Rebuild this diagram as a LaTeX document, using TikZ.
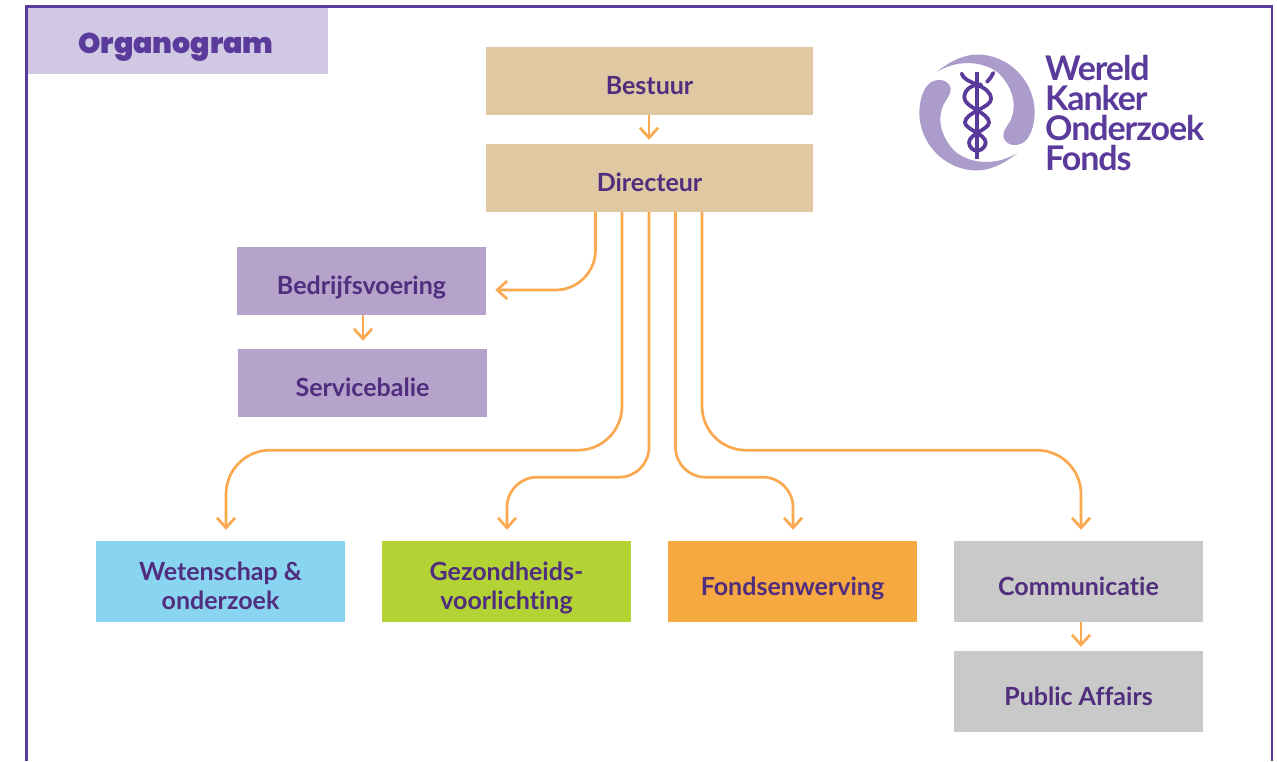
\documentclass[tikz,border=0pt]{standalone}
\usepackage{fontspec}
\setmainfont{Lato}[Ligatures=CommonOff]
\newfontfamily\titlefont{Poppins Black}
\newfontfamily\logofont{Lato}[LetterSpace=-3.2,Ligatures=CommonOff]
\usetikzlibrary{arrows.meta}

\definecolor{framepurple}{HTML}{5A3A9A}
\definecolor{textpurple}{HTML}{512D7E}
\definecolor{titlefill}{HTML}{D1C8E4}
\definecolor{logolilac}{HTML}{AC9CCB}
\definecolor{tanfill}{HTML}{E0C8A3}
\definecolor{lilacfill}{HTML}{B6A3CB}
\definecolor{bluefill}{HTML}{89D4F0}
\definecolor{greenfill}{HTML}{B3D334}
\definecolor{orangefill}{HTML}{F7A941}
\definecolor{greyfill}{HTML}{C9C9C9}
\definecolor{linkorange}{HTML}{FBA950}

\newcommand{\lowered}[1]{\raisebox{-14pt}[0pt][0pt]{\begin{tabular}{@{}c@{}}#1\end{tabular}}}

\tikzset{
	orgbox/.style={inner sep=0pt, minimum width=249pt, text=textpurple,
		font=\fontsize{25}{29}\selectfont\bfseries},
	link/.style={draw=linkorange, line width=2.7pt, -{Straight Barb[length=10pt,width=18pt]}},
	snake/.style={draw=framepurple, line width=3.8pt, line cap=round}
}

\begin{document}
\begin{tikzpicture}[x=1pt,y=-1pt]

	\useasboundingbox (0,0) rectangle (1277,761);

	% ---- title

	\node (title) [fill=titlefill, inner sep=0pt, minimum width=302pt, minimum height=67pt, text=framepurple,
		font=\fontsize{28.5}{32}\selectfont\titlefont] at (177,40.5) {\raisebox{-13pt}[0pt][0pt]{\hspace{-2pt}Organogram}};

	% ---- frame

	\draw[framepurple, line width=2.6pt] (26.5,761) -- (26.5,6.5) -- (1272,6.5) -- (1272,761);

	% ---- boxes

	\node (bestuur) [orgbox, fill=tanfill, minimum width=327pt, minimum height=68pt] at (649.5,81) {\lowered{Bestuur}};
	\node (directeur) [orgbox, fill=tanfill, minimum width=327pt, minimum height=68pt] at (649.5,178) {\lowered{Directeur}};

	\node (bedrijf) [orgbox, fill=lilacfill, minimum height=68pt] at (361.5,281) {\lowered{Bedrijfsvoering}};
	\node (service) [orgbox, fill=lilacfill, minimum height=68pt] at (362.5,383) {\lowered{Servicebalie}};

	\node (wetenschap) [orgbox, fill=bluefill, minimum height=81pt] at (220.5,581.5) {\lowered{Wetenschap \&\\onderzoek}};
	\node (gezondheid) [orgbox, fill=greenfill, minimum height=81pt] at (506.5,581.5) {\lowered{Gezondheids-\\voorlichting}};
	\node (fondsen) [orgbox, fill=orangefill, minimum height=81pt] at (792.5,581.5) {\lowered{Fondsenwerving}};
	\node (communicatie) [orgbox, fill=greyfill, minimum height=81pt] at (1078.5,581.5) {\lowered{Communicatie}};
	\node (public) [orgbox, fill=greyfill, minimum height=81pt] at (1078.5,691.5) {\lowered{Public Affairs}};

	% ---- short arrows

	\draw[link] ([xshift=-0.5pt]bestuur.south) -- ([xshift=-0.5pt,yshift=4pt]directeur.north);
	\draw[link] ([xshift=1.5pt]bedrijf.south) -- ([xshift=0.5pt,yshift=8pt]service.north);
	\draw[link] ([xshift=2.5pt]communicatie.south) -- ([xshift=2.5pt,yshift=4pt]public.north);

	% ---- curved arrows

	\draw[link, rounded corners=40pt] ([xshift=-54pt]directeur.south) |- ([xshift=9pt,yshift=-9pt]bedrijf.east);

	\draw[link, rounded corners=44pt] ([xshift=-27.5pt]directeur.south) -- ++(0,238) -| ([xshift=5.5pt,yshift=11pt]wetenschap.north);
	\draw[link, rounded corners=30pt] ([xshift=-0.5pt]directeur.south) -- ++(0,265) -| ([xshift=0.5pt,yshift=11pt]gezondheid.north);
	\draw[link, rounded corners=30pt] ([xshift=26pt]directeur.south) -- ++(0,265) -| ([xshift=0.5pt,yshift=11pt]fondsen.north);
	\draw[link, rounded corners=44pt] ([xshift=52.5pt]directeur.south) -- ++(0,238) -| ([xshift=2.5pt,yshift=11pt]communicatie.north);

	% ---- logo

	\begin{scope}[shift={(977,112.5)}, x=0.3333pt, y=-0.3333pt]
		\foreach \turn in {0,180} {
			\fill[logolilac, rotate=\turn] (-120,-122) .. controls (-75,-160) and (-30,-174) .. (0,-174)
				.. controls (95,-174) and (173,-95) .. (173,0)
				.. controls (173,30) and (165,60) .. (150,80)
				.. controls (135,100) and (100,105) .. (85,85)
				.. controls (70,65) and (85,50) .. (100,25)
				.. controls (120,-20) and (110,-70) .. (68,-115)
				.. controls (30,-150) and (-50,-165) .. (-120,-122) -- cycle;
		}
		\draw[framepurple, line width=4.6pt] (0,-122) -- (0,140);
		\draw[snake] (-46,-117) .. controls (-40,-85) and (42,-85) .. (42,-40)
			.. controls (42,-15) and (-36,0) .. (-36,30)
			.. controls (-36,50) and (26,65) .. (26,90)
			.. controls (26,105) and (10,115) .. (0,115);
		\draw[snake] (12,-84) .. controls (-15,-84) and (-38,-70) .. (-38,-45)
			.. controls (-38,-15) and (36,0) .. (36,30)
			.. controls (36,50) and (-24,65) .. (-24,90)
			.. controls (-24,105) and (-10,115) .. (0,115);
		\draw[snake] (49,-119) .. controls (42,-105) and (35,-97) .. (30,-92);
	\end{scope}

	\node (logotext) [anchor=north west, inner sep=0pt, align=left, text=framepurple,
		font=\fontsize{34}{30}\selectfont\logofont\bfseries] at (1045,55) {Wereld\\Kanker\\Onderzoek\\Fonds};

\end{tikzpicture}
\end{document}
